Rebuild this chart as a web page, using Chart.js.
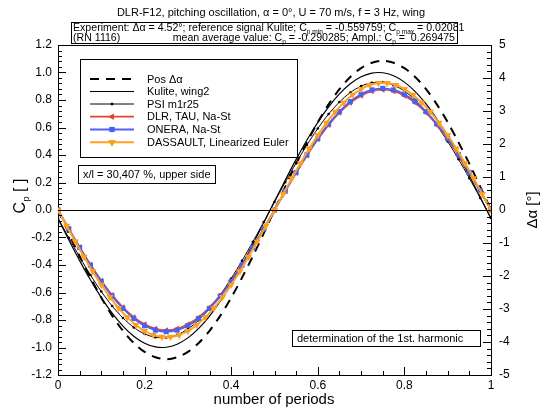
<!DOCTYPE html>
<html>
<head>
<meta charset="utf-8">
<script src="https://cdn.jsdelivr.net/npm/chart.js@4.4.1/dist/chart.umd.min.js"></script>
<style>
  html, body { margin: 0; padding: 0; background: #fff; }
</style>
</head>
<body>
<canvas id="chart" width="540" height="408"></canvas>
<script>
const FAMILY = '"Liberation Sans", Arial, Helvetica, sans-serif'

// number of periods (x)
const periods = [0,0.025,0.05,0.075,0.1,0.125,0.15,0.175,0.2,0.225,0.25,0.275,0.3,0.325,0.35,0.375,0.4,0.425,0.45,0.475,0.5,
  0.525,0.55,0.575,0.6,0.625,0.65,0.675,0.7,0.725,0.75,0.775,0.8,0.825,0.85,0.875,0.9,0.925,0.95,0.975,1]
const periodsDassault = [0,0.02,0.04,0.06,0.08,0.1,0.12,0.14,0.16,0.18,0.2,0.22,0.24,0.26,0.28,0.3,0.32,0.34,0.36,0.38,0.4,0.42,0.44,0.46,0.48,0.5,
  0.52,0.54,0.56,0.58,0.6,0.62,0.64,0.66,0.68,0.7,0.72,0.74,0.76,0.78,0.8,0.82,0.84,0.86,0.88,0.9,0.92,0.94,0.96,0.98,1]

// Pos delta alpha [deg], right axis
const posDalpha = [0,-0.71,-1.40,-2.05,-2.66,-3.20,-3.66,-4.03,-4.30,-4.46,-4.52,-4.46,-4.30,-4.03,-3.66,-3.20,-2.66,-2.05,-1.40,-0.71,0,
  0.71,1.40,2.05,2.66,3.20,3.66,4.03,4.30,4.46,4.52,4.46,4.30,4.03,3.66,3.20,2.66,2.05,1.40,0.71,0]
// Cp values, left axis
const kulite = [-0.063,-0.218,-0.368,-0.509,-0.637,-0.750,-0.844,-0.918,-0.969,-0.996,-0.998,-0.976,-0.930,-0.861,-0.771,-0.661,-0.536,-0.397,-0.249,-0.094,0.063,
  0.218,0.368,0.509,0.637,0.750,0.844,0.918,0.969,0.996,0.998,0.976,0.930,0.861,0.771,0.661,0.536,0.397,0.249,0.094,-0.063]
const psi = [-0.058,-0.203,-0.342,-0.473,-0.593,-0.698,-0.785,-0.854,-0.901,-0.926,-0.928,-0.908,-0.865,-0.801,-0.717,-0.615,-0.498,-0.369,-0.231,-0.088,0.058,
  0.203,0.342,0.473,0.593,0.698,0.785,0.854,0.901,0.926,0.928,0.908,0.865,0.801,0.717,0.615,0.498,0.369,0.231,0.088,-0.058]
const dlrTau = [0,-0.137,-0.270,-0.397,-0.514,-0.619,-0.708,-0.780,-0.832,-0.864,-0.875,-0.864,-0.832,-0.780,-0.708,-0.619,-0.514,-0.397,-0.270,-0.137,0,
  0.137,0.270,0.397,0.514,0.619,0.708,0.780,0.832,0.864,0.875,0.864,0.832,0.780,0.708,0.619,0.514,0.397,0.270,0.137,0]
const onera = [0,-0.138,-0.273,-0.402,-0.520,-0.626,-0.716,-0.789,-0.842,-0.874,-0.885,-0.874,-0.842,-0.789,-0.716,-0.626,-0.520,-0.402,-0.273,-0.138,0,
  0.138,0.273,0.402,0.520,0.626,0.716,0.789,0.842,0.874,0.885,0.874,0.842,0.789,0.716,0.626,0.520,0.402,0.273,0.138,0]
const dassault = [0,-0.116,-0.230,-0.340,-0.446,-0.544,-0.633,-0.713,-0.781,-0.837,-0.880,-0.909,-0.923,-0.923,-0.909,-0.880,-0.837,-0.781,-0.713,-0.633,-0.544,-0.446,-0.340,-0.230,-0.116,0,
  0.116,0.230,0.340,0.446,0.544,0.633,0.713,0.781,0.837,0.880,0.909,0.923,0.923,0.909,0.880,0.837,0.781,0.713,0.633,0.544,0.446,0.340,0.230,0.116,0]

const seriesNames = ['Pos \u0394\u03b1', 'Kulite, wing2', 'PSI m1r25', 'DLR, TAU, Na-St', 'ONERA, Na-St', 'DASSAULT, Linearized Euler']

function pts(xs, ys){
    return xs.map((x, i) => ({x: x, y: ys[i]}))
}

const datasets = [
    {label: seriesNames[0], data: pts(periods, posDalpha), yAxisID: 'y2', borderColor: '#000', borderWidth: 2,
     borderDash: [9, 7], pointRadius: 0, order: 6},
    {label: seriesNames[1], data: pts(periods, kulite), borderColor: '#000', borderWidth: 1.2, pointRadius: 0, order: 5},
    {label: seriesNames[2], data: pts(periods, psi), borderColor: '#000', borderWidth: 1, pointRadius: 1.3,
     pointBackgroundColor: '#000', pointBorderWidth: 0, order: 4},
    {label: seriesNames[3], data: pts(periods, dlrTau), borderColor: '#e2432f', borderWidth: 1.8, pointStyle: 'triangle',
     rotation: -90, pointRadius: 3.5, pointBackgroundColor: '#e2432f', pointBorderColor: '#e2432f', pointBorderWidth: 0, order: 3},
    {label: seriesNames[4], data: pts(periods, onera), borderColor: '#4a63f2', borderWidth: 1.8, pointStyle: 'rect',
     pointRadius: 3.6, pointBackgroundColor: '#4263f5', pointBorderColor: '#4263f5', pointBorderWidth: 0, order: 2},
    {label: seriesNames[5], data: pts(periodsDassault, dassault), borderColor: '#ffa126', borderWidth: 2, pointStyle: 'triangle',
     rotation: 180, pointRadius: 4.2, pointBackgroundColor: '#ff9e1e', pointBorderColor: '#ff9e1e', pointBorderWidth: 0, order: 1}
]
datasets.forEach(d => { d.tension = 0.3; d.fill = false })

function richWidth(ctx, parts, size){
    let w = 0
    parts.forEach(p => {
        ctx.font = (p[1] ? size * 0.62 : size) + 'px ' + FAMILY
        w += ctx.measureText(p[0]).width
    })
    return w
}
function richText(ctx, parts, x, y, size){
    let cx = x
    ctx.textAlign = 'left'
    ctx.textBaseline = 'alphabetic'
    parts.forEach(p => {
        ctx.font = (p[1] ? size * 0.62 : size) + 'px ' + FAMILY
        ctx.fillText(p[0], cx, p[1] ? y + size * 0.25 : y)
        cx += ctx.measureText(p[0]).width
    })
    return cx
}

const decor = {
    id: 'decor',
    afterDatasetsDraw(chart){
        const ctx = chart.ctx, a = chart.chartArea
        const sx = chart.scales.x, sy = chart.scales.y, sy2 = chart.scales.y2
        ctx.save()
        ctx.strokeStyle = '#000'
        ctx.lineWidth = 1
        // zero line and top frame
        ctx.beginPath()
        const y0 = Math.round(sy.getPixelForValue(0)) + 0.5
        ctx.moveTo(a.left, y0); ctx.lineTo(a.right, y0)
        ctx.moveTo(a.left, a.top + 0.5); ctx.lineTo(a.right, a.top + 0.5)
        // inward ticks
        for(let i = 0; i <= 60; i++){
            const p = Math.round(sy.getPixelForValue(-1.2 + i * 0.04)) + 0.5
            ctx.moveTo(a.left, p); ctx.lineTo(a.left + (i % 5 === 0 ? 8 : 4), p)
        }
        for(let i = 0; i <= 50; i++){
            const p = Math.round(sy2.getPixelForValue(-5 + i * 0.2)) + 0.5
            ctx.moveTo(a.right, p); ctx.lineTo(a.right - (i % 5 === 0 ? 8 : 4), p)
        }
        for(let i = 0; i <= 20; i++){
            const p = Math.round(sx.getPixelForValue(i * 0.05)) + 0.5
            ctx.moveTo(p, a.bottom); ctx.lineTo(p, a.bottom - (i % 4 === 0 ? 8 : 4))
        }
        ctx.stroke()

        // legend
        ctx.fillStyle = '#fff'
        ctx.fillRect(80, 59, 217, 98)
        ctx.strokeRect(80.5, 59.5, 217, 98)
        const rows = [79, 91.5, 104, 116.7, 129.5, 142.3]
        datasets.forEach((d, i) => {
            const ry = rows[i]
            ctx.save()
            ctx.strokeStyle = d.borderColor
            ctx.lineWidth = d.borderWidth
            ctx.setLineDash(d.borderDash || [])
            ctx.beginPath(); ctx.moveTo(90, ry); ctx.lineTo(134, ry); ctx.stroke()
            ctx.restore()
            if(d.pointRadius > 0){
                ctx.fillStyle = d.pointBackgroundColor
                Chart.helpers.drawPoint(ctx, {pointStyle: d.pointStyle || 'circle', rotation: d.rotation || 0,
                    radius: d.pointRadius, borderWidth: 0}, 112, ry)
                ctx.fill()
            }
            ctx.fillStyle = '#000'
            ctx.font = '11px ' + FAMILY
            ctx.textBaseline = 'middle'
            ctx.textAlign = 'left'
            ctx.fillText(d.label, 147, ry + 0.5)
        })

        // text boxes
        ctx.fillStyle = '#fff'
        ctx.fillRect(78, 165, 137, 18)
        ctx.strokeRect(78.5, 165.5, 137, 18)
        ctx.fillRect(292, 330, 188, 16)
        ctx.strokeRect(292.5, 330.5, 188, 16)
        ctx.fillStyle = '#000'
        ctx.font = '11px ' + FAMILY
        ctx.textBaseline = 'middle'
        ctx.fillText('x/l = 30,407 %, upper side', 83, 175)
        ctx.fillText('determination of the 1st. harmonic', 297, 339)
        ctx.restore()
    },
    afterDraw(chart){
        const ctx = chart.ctx
        ctx.save()
        ctx.fillStyle = '#000'
        ctx.strokeStyle = '#000'
        ctx.lineWidth = 1
        // main title
        ctx.font = '11px ' + FAMILY
        ctx.textAlign = 'center'
        ctx.textBaseline = 'alphabetic'
        ctx.fillText('DLR-F12, pitching oscillation, \u03b1 = 0\u00b0, U = 70 m/s, f = 3 Hz, wing', 271, 16)
        // experiment box
        ctx.fillStyle = '#fff'
        ctx.fillRect(71, 22, 386, 22)
        ctx.strokeRect(71.5, 22.5, 386, 21)
        ctx.fillStyle = '#000'
        const fs = 10.6
        richText(ctx, [['Experiment: \u0394\u03b1 = 4.52\u00b0; reference signal Kulite; C'], ['p min', 1], [' = -0.559759; C'], ['p max', 1], [' = 0.02081']], 73, 31, fs)
        richText(ctx, [['(RN 1116)']], 73, 41, fs)
        const line2 = [['mean average value: C'], ['p', 1], [' = -0.290285; Ampl.: C'], ['p', 1], [' =  0.269475']]
        richText(ctx, line2, 455 - richWidth(ctx, line2, fs), 41, fs)
        // axis titles
        ctx.save()
        ctx.translate(25, 196)
        ctx.rotate(-Math.PI / 2)
        const cp = [['C'], ['p', 1], [' [ ]']]
        richText(ctx, cp, -richWidth(ctx, cp, 16) / 2, 0, 16)
        ctx.restore()
        ctx.save()
        ctx.translate(537, 210)
        ctx.rotate(-Math.PI / 2)
        ctx.font = '15px ' + FAMILY
        ctx.textAlign = 'center'
        ctx.fillText('\u0394\u03b1 [\u00b0]', 0, 0)
        ctx.restore()
        ctx.font = '15px ' + FAMILY
        ctx.textAlign = 'center'
        ctx.textBaseline = 'alphabetic'
        ctx.fillText('number of periods', 274, 404)
        ctx.restore()
    }
}

const tickFont = {family: FAMILY, size: 12}

new Chart(document.getElementById('chart'), {
    type: 'line',
    data: {datasets: datasets},
    plugins: [decor],
    options: {
        responsive: false,
        animation: false,
        devicePixelRatio: 1,
        layout: {padding: {top: 45, left: 0, right: 0, bottom: 0}},
        plugins: {legend: {display: false}, title: {display: false}, tooltip: {enabled: false}},
        scales: {
            x: {
                type: 'linear', min: 0, max: 1,
                grid: {display: false, drawTicks: false},
                border: {color: '#000', width: 1},
                ticks: {stepSize: 0.2, font: tickFont, color: '#000', padding: 3, maxRotation: 0,
                    callback: v => (v === 0 || v === 1) ? String(v) : v.toFixed(1)},
                afterFit: s => { s.height = 33 }
            },
            y: {
                position: 'left', min: -1.2, max: 1.2,
                grid: {display: false, drawTicks: false},
                border: {color: '#000', width: 1},
                ticks: {stepSize: 0.2, font: tickFont, color: '#000', padding: 6,
                    callback: v => Math.abs(v) < 1e-9 ? '0.0' : v.toFixed(1)},
                afterFit: s => { s.width = 58 }
            },
            y2: {
                position: 'right', min: -5, max: 5,
                grid: {display: false, drawTicks: false},
                border: {color: '#000', width: 1},
                ticks: {stepSize: 1, font: tickFont, color: '#000', padding: 8,
                    callback: v => String(Math.round(v))},
                afterFit: s => { s.width = 49 }
            }
        }
    }
})
</script>
</body>
</html>
